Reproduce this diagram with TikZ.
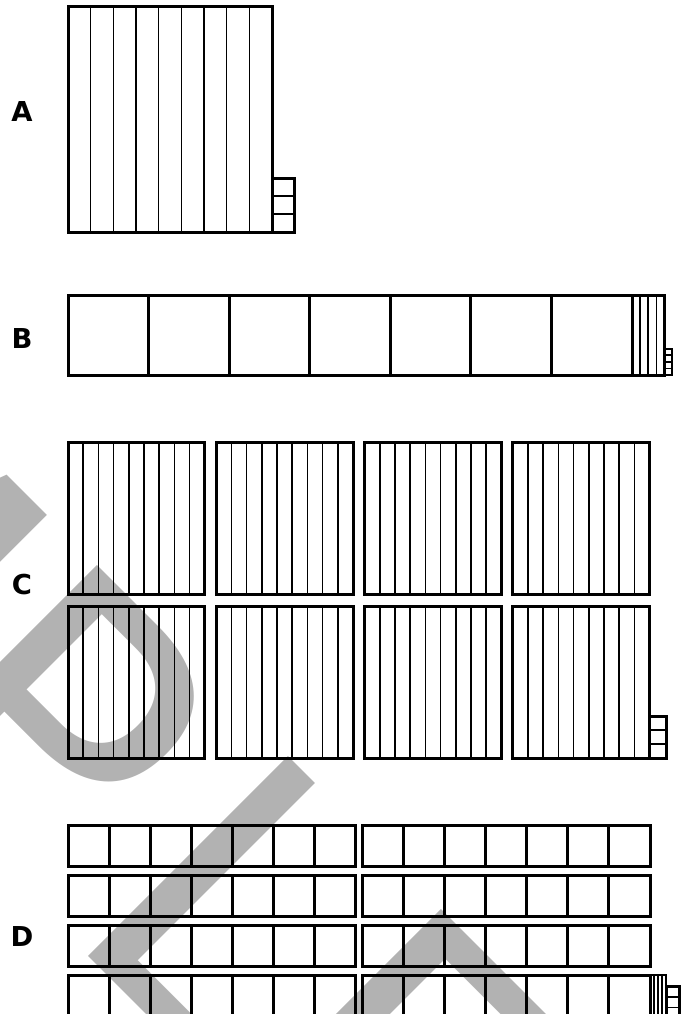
\documentclass[tikz,border=0pt]{standalone}
\usepackage{fontspec}
\setmainfont{DejaVu Sans}
\usetikzlibrary{positioning}

\begin{document}
\begin{tikzpicture}[x=1pt, y=-1pt,
  frame/.style={line width=3pt},
  strip/.style={line width=1.6pt},
  tag/.style={font=\fontsize{27.4}{27.4}\selectfont\bfseries, inner sep=0pt},
  stamp/.style={font=\fontsize{388}{388}\selectfont, text=black!30,
                inner sep=0pt, rotate=-45}]

  \clip (0,0) rectangle (687,1014);

  % watermark
  \node[stamp, anchor=base east] (mark) at (388,1256)
    {SAM\kern-6pt P\kern37pt LE};

  % A
  \node[tag] (labA) at (22,111.7) {A};
  \foreach \i in {1,...,8}
    \draw[strip] ({68+22.67*\i},7) -- ++(0,225);
  \draw[frame] (68,7) rectangle (272,232);
  \foreach \j in {1,2}
    \draw[strip] (272,{178+18*\j}) -- ++(22.67,0);
  \draw[frame] (272,178) rectangle (294.67,232);

  % B
  \node[tag] (labB) at (22,339) {B};
  \foreach \i in {1,...,6}
    \draw[frame] ({68+80.57*\i},295) -- ++(0,80);
  \draw[frame] (68,295) rectangle (632,375);
  \foreach \i in {1,2,3}
    \draw[strip] ({632+8.1*\i},295) -- ++(0,80);
  \draw[frame] (632,295) rectangle (664.4,375);
  \foreach \j in {1,2,3}
    \draw[strip] (664.4,{348.7+6.57*\j}) -- ++(7.6,0);
  \draw[frame, line width=2pt] (664.4,348.7) rectangle (672,375);

  % C
  \node[tag] (labC) at (22,585) {C};
  \foreach \c in {0,...,3}
    \foreach \r in {442,606}{
      \foreach \i in {1,...,8}
        \draw[strip] ({68+148.3*\c+15.19*\i},\r) -- ++(0,152);
      \draw[frame] ({68+148.3*\c},\r) rectangle ++(136.7,152);
    }
  \foreach \j in {1,2}
    \draw[strip] (649.6,{716+14*\j}) -- ++(17,0);
  \draw[frame] (649.6,716) rectangle (666.6,758);

  % D
  \node[tag] (labD) at (22,937) {D};
  \foreach \b in {0,1}
    \foreach \r in {0,...,3}{
      \foreach \i in {1,...,6}
        \draw[frame] ({68+294.7*\b+41.04*\i},{825+50*\r}) -- ++(0,41);
      \draw[frame] ({68+294.7*\b},{825+50*\r}) rectangle ++(287.3,41);
    }
  \foreach \i in {1,2,3}
    \draw[strip] ({650+4*\i},975) -- ++(0,41);
  \draw[frame, line width=2pt] (650,975) rectangle (666,1016);
  \foreach \j in {1,2}
    \draw[strip] (666,{986.7+10.3*\j}) -- ++(13,0);
  \draw[frame] (666,986.7) rectangle (679,1017.6);
\end{tikzpicture}
\end{document}
